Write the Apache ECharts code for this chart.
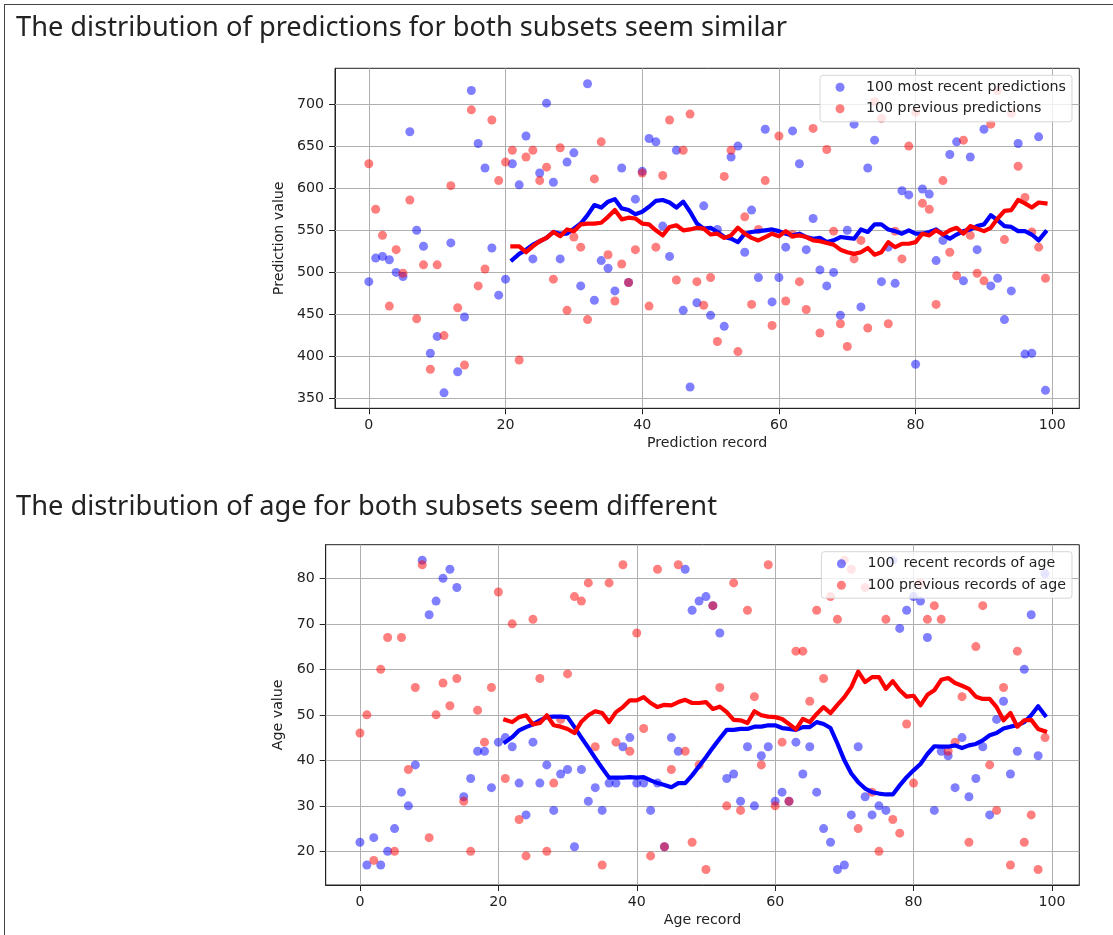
<!DOCTYPE html>
<html><head><meta charset="utf-8">
<script src="https://cdn.jsdelivr.net/npm/echarts@6/dist/echarts.min.js"></script>
<style>
html,body{margin:0;padding:0;background:#fff;overflow:hidden;}
#frame{position:absolute;left:4px;top:4px;width:1200px;height:1000px;border-left:1px solid #444;border-top:1px solid #444;}
#chart{position:absolute;left:0;top:0;width:1113px;height:935px;}
#titles{position:absolute;left:0;top:0;}
</style></head>
<body>
<div id="frame"></div>
<div id="chart"></div>
<svg id="titles" width="1113" height="935">
<text x="16" y="36" font-family="Noto Sans" font-size="27" fill="#222" textLength="771" lengthAdjust="spacingAndGlyphs">The distribution of predictions for both subsets seem similar</text>
<text x="16" y="515" font-family="Noto Sans" font-size="27" fill="#222" textLength="701" lengthAdjust="spacingAndGlyphs">The distribution of age for both subsets seem different</text>
</svg>
<script>
// ---- data ----
const predRecent = [489,517,519,515,500,495,667,550,531,404,424,357,535,382,447,716,653,624,529,473,
  492,629,604,662,516,618,701,607,516,631,642,484,724,467,514,505,478,624,488,587,
  620,659,655,555,519,645,455,364,464,579,449,551,436,637,650,524,574,494,670,465,
  494,530,668,629,527,564,503,484,500,449,550,676,459,624,657,489,530,487,597,592,
  391,599,593,514,538,640,655,490,637,527,670,484,493,444,478,653,403,404,661,360];
const predPrev = [629,575,544,460,527,499,586,445,509,385,509,425,603,458,390,693,484,504,681,609,
  631,645,396,637,645,609,625,492,648,455,542,530,444,611,655,521,466,510,488,527,
  618,460,530,615,681,491,645,688,489,461,494,418,614,645,406,566,462,551,609,437,
  662,466,545,489,456,671,428,646,549,439,412,516,538,434,703,683,439,549,516,650,
  690,582,575,462,609,524,496,657,544,499,490,676,716,539,689,626,589,548,530,493];
// rolling means, records 21..99
const predRecentMean = [515,522,527,533,537,541,548,546,546,552,558,568,580,577,584,587,576,574,569,
  572,578,585,586,583,577,584,572,558,552,553,548,542,540,536,546,548,549,550,551,
  549,546,544,546,542,540,541,536,538,542,541,540,551,548,557,557,551,549,546,550,
  546,546,548,551,545,540,545,549,551,555,557,568,562,555,554,549,549,545,538,548];
const predPrevMean = [531,531,524,531,537,541,548,543,551,549,557,558,558,559,566,574,563,565,564,
  558,557,550,544,554,556,550,551,553,552,545,546,541,544,553,546,541,538,542,546,
  543,549,543,544,542,538,537,535,533,527,524,522,524,529,521,524,536,530,534,534,
  536,546,544,550,545,550,553,546,555,552,549,553,564,573,574,586,582,577,583,582];
const ageRecent = [22,17,23,17,20,25,33,30,39,84,72,75,80,82,78,32,36,42,42,34,
  44,45,43,35,28,44,35,39,29,37,38,21,38,31,34,29,35,35,43,45,
  35,35,29,35,21,45,42,82,73,75,76,74,68,36,37,31,43,30,41,43,
  31,33,31,44,37,43,33,25,22,16,17,28,43,32,28,30,29,84,69,73,
  76,75,67,29,42,41,34,45,32,36,43,28,49,53,37,42,60,72,41,81];
const agePrev = [46,50,18,60,67,20,67,38,56,83,23,50,57,52,58,31,20,51,44,56,
  77,36,70,27,19,71,58,20,35,49,59,76,75,79,43,17,79,44,83,42,
  68,47,19,82,21,38,83,42,22,39,16,74,56,30,79,29,73,54,39,83,
  30,44,31,64,64,53,73,58,76,71,84,82,25,78,33,20,71,27,24,48,
  35,79,71,74,71,42,44,54,22,65,74,39,29,56,17,64,22,28,16,45];
const ageRecentMean = [44,45.1,46.6,47.3,47.9,48.8,49.5,49.6,49.6,49.5,47.3,45,42.8,40.5,38.3,36.2,36.2,36.2,36.3,
  36.2,36.3,35.6,35,34.6,34.1,35,35,36.7,38.7,40.7,42.8,44.8,46.7,46.7,46.9,46.9,47.4,47.4,47.7,
  47.7,47.1,46.9,46.7,47.3,47.3,48.4,48,47.1,43.7,40,37.1,35.2,33.8,33,32.7,32.5,32.5,34.5,36.3,
  37.8,39.2,41.4,43.1,43,43,43.3,42.7,43.3,43.6,44.4,45.5,46,47,47.4,47.7,48.4,49.9,51.9,49.9];
const agePrevMean = [48.9,48.4,49.5,49.9,47.9,48.2,49.9,47.7,47.4,46.9,46,48.5,49.9,50.8,50.4,48.4,50.6,51.7,53.2,
  53.2,53.9,52.6,51.7,52.2,52.1,52.8,53.3,52.6,52.6,52.8,51.3,51.8,50.6,48.9,48.8,48.2,50.8,49.9,49.6,
  49.5,49.1,48,46.8,49.1,48.4,50.2,51.7,50.4,52.2,53.9,56.1,59.5,57.2,58.3,58.3,55.7,57.4,55.4,54,
  54.2,52.1,54.4,55.4,57.7,58.1,57,56.4,55.7,54,53.5,53.5,51.7,48.8,50.4,47.4,48.8,48.9,46.9,46.4];
const meanStart = 21;
const xTicks = [0,20,40,60,80,100];
const predTicks = [350,400,450,500,550,600,650,700];
const ageTicks = [20,30,40,50,60,70,80];
const legendPred = ['100 most recent predictions','100 previous predictions'];
const legendAge = ['100  recent records of age','100 previous records of age'];

// ---- chart ----
const FONT = 'DejaVu Sans';
const FS = 14.2;
const TXT = '#222';
const pts = arr => arr.map((v, i) => [i, v]);
const meanPts = arr => arr.map((v, i) => [meanStart + i, v]);

function xAxisCfg(gi, name) {
  return {
    type: 'value', gridIndex: gi, min: -4.95, max: 103.95,
    name: name, nameLocation: 'middle', nameGap: 28,
    nameTextStyle: {fontFamily: FONT, fontSize: FS, color: TXT},
    axisLine: {show: true, onZero: false, lineStyle: {color: '#222', width: 1}},
    axisTick: {show: true, length: 6, lineStyle: {color: '#222', width: 1}, customValues: xTicks},
    axisLabel: {customValues: xTicks, margin: 10, fontFamily: FONT, fontSize: FS, color: TXT},
    splitLine: {show: false}
  };
}
function yAxisCfg(gi, name, min, max, ticks, gap) {
  return {
    type: 'value', gridIndex: gi, min: min, max: max,
    name: name, nameLocation: 'middle', nameGap: gap,
    nameTextStyle: {fontFamily: FONT, fontSize: FS, color: TXT},
    axisLine: {show: true, onZero: false, lineStyle: {color: '#222', width: 1}},
    axisTick: {show: true, length: 6, lineStyle: {color: '#222', width: 1}, customValues: ticks},
    axisLabel: {customValues: ticks, margin: 11, fontFamily: FONT, fontSize: FS, color: TXT},
    splitLine: {show: false}
  };
}
function gridLines(yTicks) {
  return {
    silent: true, z: 1, symbol: ['none', 'none'], label: {show: false},
    lineStyle: {color: '#b0b0b0', width: 1, type: 'solid', opacity: 1},
    emphasis: {disabled: true},
    data: xTicks.map(v => ({xAxis: v})).concat(yTicks.map(v => ({yAxis: v})))
  };
}
function scatter(name, gi, data, color, yTicks) {
  const s = {
    name: name, type: 'scatter', xAxisIndex: gi, yAxisIndex: gi, z: 2,
    symbol: 'circle', symbolSize: 9, data: data,
    itemStyle: {color: color, opacity: 1}
  };
  if (yTicks) s.markLine = gridLines(yTicks);
  return s;
}
function line(name, gi, data, color, z) {
  return {
    name: name, type: 'line', xAxisIndex: gi, yAxisIndex: gi, z: z,
    data: data, showSymbol: false, symbol: 'none',
    lineStyle: {color: color, width: 4.2, join: 'round', cap: 'square'},
    itemStyle: {color: color}
  };
}
function legendCfg(names, top) {
  return {
    data: names, orient: 'vertical', right: 41, top: top,
    icon: 'circle', itemWidth: 9, itemHeight: 9, itemGap: 5.5,
    padding: [4, 6, 5, 15.5],
    backgroundColor: 'rgba(255,255,255,0.8)',
    borderColor: 'rgba(204,204,204,0.8)', borderWidth: 1, borderRadius: 3,
    selectedMode: false,
    itemStyle: {opacity: 1},
    textStyle: {fontFamily: FONT, fontSize: FS, color: TXT, lineHeight: 16, padding: [0, 0, 0, 16.5]}
  };
}

const chart = echarts.init(document.getElementById('chart'), null, {renderer: 'canvas'});
chart.setOption({
  animation: false,
  backgroundColor: 'transparent',
  grid: [
    {left: 335, top: 68.3, width: 744.3, height: 340, show: true, borderColor: '#222', borderWidth: 1, backgroundColor: 'transparent'},
    {left: 325.7, top: 544.7, width: 753.6, height: 340.3, show: true, borderColor: '#222', borderWidth: 1, backgroundColor: 'transparent'}
  ],
  xAxis: [xAxisCfg(0, 'Prediction record'), xAxisCfg(1, 'Age record')],
  yAxis: [yAxisCfg(0, 'Prediction value', 338.65, 742.35, predTicks, 44),
          yAxisCfg(1, 'Age value', 12.6, 87.4, ageTicks, 35)],
  legend: [legendCfg(legendPred, 75.3), legendCfg(legendAge, 551.7)],
  series: [
    scatter(legendPred[0], 0, pts(predRecent), 'rgba(0,0,255,0.5)', predTicks),
    scatter(legendPred[1], 0, pts(predPrev), 'rgba(255,0,0,0.5)'),
    line('recent mean', 0, meanPts(predRecentMean), '#0000ff', 3),
    line('previous mean', 0, meanPts(predPrevMean), '#ff0000', 4),
    scatter(legendAge[0], 1, pts(ageRecent), 'rgba(0,0,255,0.5)', ageTicks),
    scatter(legendAge[1], 1, pts(agePrev), 'rgba(255,0,0,0.5)'),
    line('recent age mean', 1, meanPts(ageRecentMean), '#0000ff', 3),
    line('previous age mean', 1, meanPts(agePrevMean), '#ff0000', 4)
  ]
});
</script>
</body></html>
